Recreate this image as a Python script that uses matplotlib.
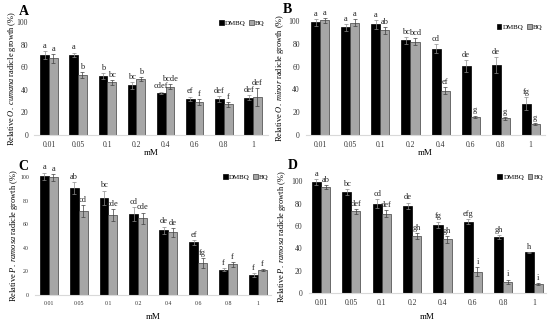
import matplotlib
matplotlib.use("Agg")
import matplotlib.pyplot as plt
import numpy as np

plt.rcParams['font.family'] = ['Liberation Serif', 'DejaVu Serif']
plt.rcParams['mathtext.fontset'] = 'custom'
plt.rcParams['mathtext.rm'] = 'Liberation Serif'
plt.rcParams['mathtext.it'] = 'Liberation Serif:italic'

conc = ['0.01', '0.05', '0.1', '0.2', '0.4', '0.6', '0.8', '1']

A_dmbq = [70.5, 71, 52, 44, 37.5, 32, 32, 33]
A_dmbq_err = [3.5, 2, 2.5, 3, 1, 2, 2.5, 2]
A_bq = [68, 53, 46.6, 49.5, 42.8, 29, 27, 33.6]
A_bq_err = [4, 2.5, 2, 2, 2, 2.5, 2, 8]
A_dmbq_let = ['a', 'a', 'b', 'bc', 'cdef', 'ef', 'def', 'def']
A_bq_let = ['a', 'b', 'bc', 'b', 'bcde', 'f', 'f', 'def']

B_dmbq = [99, 94.5, 97, 83, 75.5, 60.5, 61.5, 27.5]
B_dmbq_err = [3, 3, 4, 3, 4, 5, 7, 6]
B_bq = [100.5, 98.5, 92, 82, 39, 16, 14.5, 9.5]
B_bq_err = [2, 3, 3, 3, 3, 1, 1, 1]
B_dmbq_let = ['a', 'a', 'a', 'bc', 'cd', 'de', 'de', 'fg']
B_bq_let = ['a', 'a', 'ab', 'bcd', 'ef', 'g', 'g', 'g']

C_dmbq = [101, 91, 82.7, 68.5, 55, 44.6, 21.3, 17]
C_dmbq_err = [3, 5, 6, 6, 3, 2, 1.5, 1.5]
C_bq = [100, 71.6, 68, 65, 53, 27, 26, 21]
C_bq_err = [3, 5, 5, 5, 4, 4, 2, 1]
C_dmbq_let = ['a', 'ab', 'bc', 'cd', 'de', 'ef', 'f', 'f']
C_bq_let = ['a', 'cd', 'cde', 'cde', 'de', 'fg', 'f', 'f']

D_dmbq = [99.4, 90.4, 80, 78, 61, 64, 50, 36.4]
D_dmbq_err = [3, 3, 4, 3, 3, 2, 2, 0.5]
D_bq = [95, 73, 71, 51, 48, 19, 10, 8]
D_bq_err = [2, 2, 3, 3, 3, 4, 2, 1]
D_dmbq_let = ['a', 'bc', 'cd', 'de', 'fg', 'efg', 'gh', 'h']
D_bq_let = ['ab', 'def', 'def', 'gh', 'gh', 'i', 'i', 'i']

fig = plt.figure(figsize=(5.5, 3.24), dpi=100)

panels = [
    ('A', 'O.\\ cumana', A_dmbq, A_dmbq_err, A_bq, A_bq_err, A_dmbq_let, A_bq_let,
     [0.0625, 0.5833, 0.424, 0.3488], (-0.5, 7.5), 5.5),
    ('B', 'O.\\ minor', B_dmbq, B_dmbq_err, B_bq, B_bq_err, B_dmbq_let, B_bq_let,
     [0.5564, 0.5833, 0.4345, 0.3519], (-0.48, 7.48), 5.5),
    ('C', 'P.\\ ramosa', C_dmbq, C_dmbq_err, C_bq, C_bq_err, C_dmbq_let, C_bq_let,
     [0.064, 0.0904, 0.4296, 0.3624], (-0.45, 7.45), 4.2),
    ('D', 'P.\\ ramosa', D_dmbq, D_dmbq_err, D_bq, D_bq_err, D_dmbq_let, D_bq_let,
     [0.5615, 0.0957, 0.431, 0.3447], (-0.4, 7.4), 5.5),
]

label_pos = {'A': (0.035, 0.985), 'B': (0.515, 0.992), 'C': (0.033, 0.505), 'D': (0.523, 0.51)}
ylabel_x = {'A': 0.022, 'B': 0.51, 'C': 0.025, 'D': 0.513}
xlabel_y = {'A': 0.528, 'B': 0.528, 'C': 0.022, 'D': 0.022}
leg_anchor = {'A': (1.0, 1.04), 'B': (1.0, 1.0), 'C': (1.0, 1.05), 'D': (1.0, 1.09)}

w = 0.3
x = np.arange(len(conc))
for name, sp, dm, dme, bq, bqe, dml, bql, pos, xl, tfs in panels:
    ax = fig.add_axes(pos)
    ax.bar(x - w / 2, dm, w, color='black', edgecolor='black', linewidth=0.5,
           label='DMBQ', clip_on=False)
    ax.bar(x + w / 2, bq, w, color='#a6a6a6', edgecolor='#404040', linewidth=0.5,
           label='BQ', clip_on=False)
    ax.errorbar(x - w / 2, dm, yerr=dme, fmt='none', ecolor='#8c8c8c', elinewidth=0.5,
                capsize=1.2, capthick=0.5, clip_on=False)
    ax.errorbar(x + w / 2, bq, yerr=bqe, fmt='none', ecolor='#404040', elinewidth=0.5,
                capsize=1.2, capthick=0.5, clip_on=False)
    for i in range(len(conc)):
        ax.text(x[i] - w / 2, dm[i] + dme[i] + 1, dml[i], ha='center', va='bottom',
                fontsize=6, color='#222222')
        ax.text(x[i] + w / 2, bq[i] + bqe[i] + 1, bql[i], ha='center', va='bottom',
                fontsize=6, color='#222222')
    ax.set_xlim(*xl)
    ax.set_ylim(0, 100)
    ax.set_yticks([0, 20, 40, 60, 80, 100])
    ax.set_xticks(x)
    ax.set_xticklabels(conc)
    ax.tick_params(length=0, labelsize=tfs, colors='#333333', pad=4.5)
    for s in ['top', 'right', 'left']:
        ax.spines[s].set_visible(False)
    ax.spines['bottom'].set_color('#d9d9d9')
    ax.spines['bottom'].set_linewidth(0.8)
    ax.patch.set_alpha(0)
    ax.legend(loc='upper right', bbox_to_anchor=leg_anchor[name], ncol=2,
              frameon=False, fontsize=5, handlelength=0.7, handleheight=0.7,
              handletextpad=0.15, columnspacing=0.5, borderaxespad=0)
    fig.text(label_pos[name][0], label_pos[name][1], name, fontsize=10, fontweight='bold',
             ha='left', va='top')
    cy = pos[1] + pos[3] / 2
    fig.text(ylabel_x[name], cy, r'Relative $\mathit{' + sp + r'}$ radicle growth (%)',
             rotation=90, ha='center', va='center', fontsize=6)
    fig.text(pos[0] + pos[2] * 0.5, xlabel_y[name], 'mM', ha='center', va='center',
             fontsize=6.5)

fig.savefig('out.png', dpi=100)
